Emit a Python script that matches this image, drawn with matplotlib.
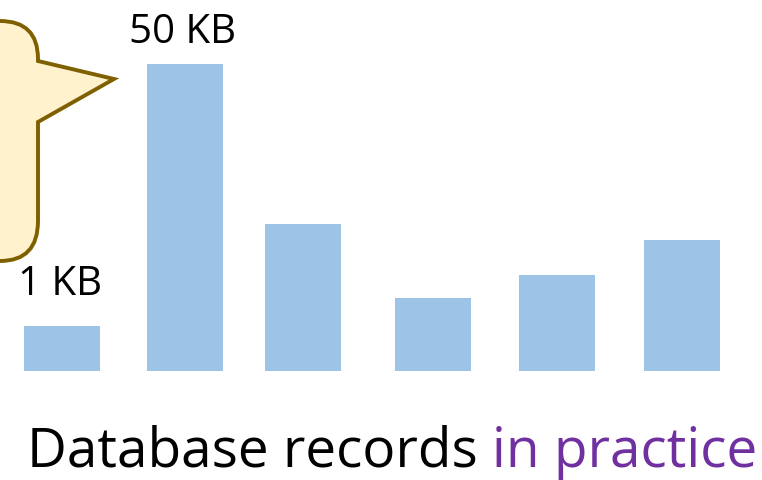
import matplotlib
matplotlib.use('Agg')
import matplotlib.pyplot as plt
from matplotlib.path import Path
from matplotlib.patches import PathPatch

plt.rcParams['font.family'] = ['Open Sans', 'DejaVu Sans']

# 資料：六筆資料庫紀錄的相對大小（依圖估計）
records = ['r1', 'r2', 'r3', 'r4', 'r5', 'r6']
sizes = [45, 307, 147, 73, 96, 131]
size_labels = {0: '1 KB', 1: '50 KB'}
title_main = 'Database records '
title_accent = 'in practice'

W, H = 762, 481
fig = plt.figure(figsize=(W / 100, H / 100), dpi=100)

# 長條圖主軸
ax = fig.add_axes([0, (H - 372) / H, 1, 372 / H])
xpos = [0, 0.992, 1.944, 2.992, 3.992, 5.0]
ax.bar(xpos, sizes, width=0.615, color='#9DC3E6')
ax.set_xlim(-0.5, (W - 62) / 124)
ax.set_ylim(0, 372)
ax.axis('off')
label_gap = {0: 32, 1: 22}
for i, lab in size_labels.items():
    ax.text(xpos[i] - 0.02, sizes[i] + label_gap[i], lab, ha='center', va='baseline',
            fontsize=29, color='black')

# 對話框（左側被裁切）
ov = fig.add_axes([0, 0, 1, 1])
ov.set_xlim(0, W)
ov.set_ylim(H, 0)
ov.axis('off')
verts = [(-80, 22), (0, 22), (38, 22), (38, 60), (38, 62), (114, 80), (38, 123),
         (38, 222), (38, 262), (0, 262), (-80, 262), (-80, 22)]
codes = [Path.MOVETO, Path.LINETO, Path.CURVE3, Path.CURVE3, Path.LINETO, Path.LINETO,
         Path.LINETO, Path.LINETO, Path.CURVE3, Path.CURVE3, Path.LINETO, Path.CLOSEPOLY]
ov.add_patch(PathPatch(Path(verts, codes), facecolor='#FFF2CC', edgecolor='#7F6000',
                       lw=2.8, joinstyle='miter'))

# 標題
t1 = ov.text(27, 467, title_main, fontsize=39.5, color='black', ha='left', va='baseline')
fig.canvas.draw()
bb = t1.get_window_extent()
ov.text(27 + bb.width, 467, title_accent, fontsize=39.5, color='#7030A0', ha='left', va='baseline')

fig.savefig('out.png', dpi=100)
